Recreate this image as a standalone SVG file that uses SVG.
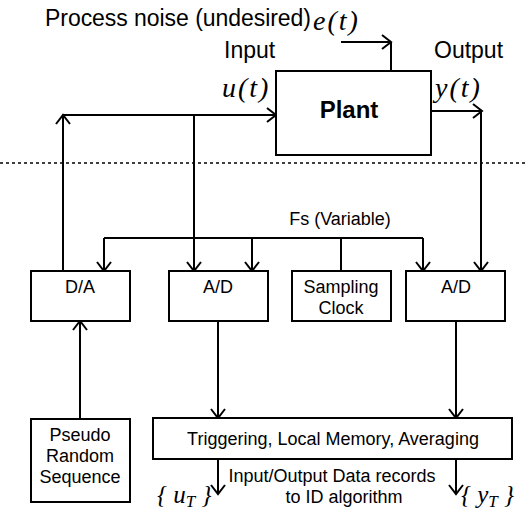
<svg xmlns="http://www.w3.org/2000/svg" width="527" height="512" viewBox="0 0 527 512">
<style>
.box{fill:#fff;stroke:#000;stroke-width:2}
.ln{fill:none;stroke:#000;stroke-width:2}
.t{font-family:"Liberation Sans",Arial,sans-serif;font-size:18px;fill:#000}
.tl{font-family:"Liberation Sans",Arial,sans-serif;font-size:23px;fill:#000}
.m{font-family:"Liberation Serif","Times New Roman",serif;font-style:italic;font-size:28px;fill:#000;letter-spacing:2px}
.ms{font-family:"Liberation Serif","Times New Roman",serif;font-style:italic;font-size:25px;fill:#000}
</style>
<defs>
<marker id="ar" markerWidth="14" markerHeight="16" refX="10" refY="8" orient="auto" markerUnits="userSpaceOnUse">
<path d="M1,1 L10,8 L1,15" fill="none" stroke="#000" stroke-width="2"/>
</marker>
</defs>
<line x1="0" y1="163" x2="527" y2="163" stroke="#000" stroke-width="1.6" stroke-dasharray="3,3"/>
<text class="tl" x="45" y="26" textLength="266" lengthAdjust="spacing">Process noise (undesired)</text>
<text class="m" x="313" y="30" font-size="31">e(t)</text>
<text class="tl" x="224" y="58">Input</text>
<text class="tl" x="434" y="58" font-size="24">Output</text>
<text class="m" x="222" y="97">u(t)</text>
<text class="m" x="435" y="97">y(t)</text>
<text class="t" x="340" y="225" text-anchor="middle">Fs (Variable)</text>
<g id="connectors">
<path class="ln" d="M341,42 H391" marker-end="url(#ar)"/>
<path class="ln" d="M391,42 V71"/>
<path class="ln" d="M63,115 H276" marker-end="url(#ar)"/>
<path class="ln" d="M63,271 V115" marker-end="url(#ar)"/>
<path class="ln" d="M194,115 V271" marker-end="url(#ar)"/>
<path class="ln" d="M431,111 H482" marker-end="url(#ar)"/>
<path class="ln" d="M481,111 V271" marker-end="url(#ar)"/>
<path class="ln" d="M341,271 V238 M104,238 H423"/>
<path class="ln" d="M104,238 V271" marker-end="url(#ar)"/>
<path class="ln" d="M252,238 V271" marker-end="url(#ar)"/>
<path class="ln" d="M423,238 V271" marker-end="url(#ar)"/>
<path class="ln" d="M80,419 V321" marker-end="url(#ar)"/>
<path class="ln" d="M218,321 V418" marker-end="url(#ar)"/>
<path class="ln" d="M456,321 V418" marker-end="url(#ar)"/>
<path class="ln" d="M218,459 V494" marker-end="url(#ar)"/>
<path class="ln" d="M456,459 V494" marker-end="url(#ar)"/>
</g>
<g id="plant">
<rect class="box" x="276" y="71" width="155" height="84"/>
<text x="349" y="118" text-anchor="middle" font-family="Liberation Sans,Arial,sans-serif" font-weight="bold" font-size="24">Plant</text>
</g>
<g id="da">
<rect class="box" x="31" y="271" width="99" height="50"/>
<text class="t" x="80" y="293" text-anchor="middle">D/A</text>
</g>
<g id="ad1">
<rect class="box" x="169" y="271" width="99" height="50"/>
<text class="t" x="218" y="293" text-anchor="middle">A/D</text>
</g>
<g id="clock">
<rect class="box" x="292" y="271" width="99" height="50"/>
<text class="t" x="341" y="293" text-anchor="middle">Sampling</text>
<text class="t" x="341" y="314" text-anchor="middle">Clock</text>
</g>
<g id="ad2">
<rect class="box" x="406" y="271" width="99" height="50"/>
<text class="t" x="456" y="293" text-anchor="middle">A/D</text>
</g>
<g id="prs">
<rect class="box" x="31" y="419" width="99" height="83"/>
<text class="t" x="80" y="441" text-anchor="middle">Pseudo</text>
<text class="t" x="80" y="462" text-anchor="middle">Random</text>
<text class="t" x="80" y="483" text-anchor="middle">Sequence</text>
</g>
<g id="trig">
<rect class="box" x="153" y="418" width="359" height="41"/>
<text class="t" x="333" y="445" text-anchor="middle">Triggering, Local Memory, Averaging</text>
</g>
<text class="t" x="332" y="482" text-anchor="middle">Input/Output Data records</text>
<text class="t" x="344" y="503" text-anchor="middle">to ID algorithm</text>
<text class="ms" x="157" y="503">{ u<tspan font-size="17" dy="4">T</tspan><tspan dy="-4"> }</tspan></text>
<text class="ms" x="461" y="503">{ y<tspan font-size="17" dy="4">T</tspan><tspan dy="-4"> }</tspan></text>
</svg>
